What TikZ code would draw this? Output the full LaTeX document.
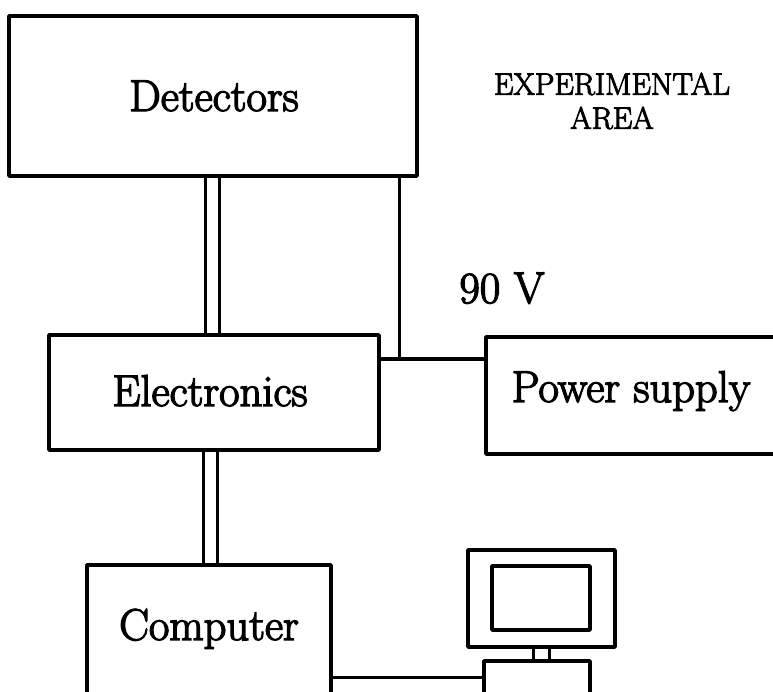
\documentclass[tikz,border=0pt]{standalone}
\usepackage{fontspec}
\newfontfamily\heavyfont[RawFeature={embolden=3}]{Latin Modern Roman}
\tikzset{
  x=1pt,y=-1pt,
  box/.style={draw=black,line width=3.8pt,fill=none,inner sep=0pt,outer sep=0pt,anchor=north west,line join=round},
  wire/.style={draw=black,line width=3pt},
  thickwire/.style={draw=black,line width=4pt},
  big/.style={font=\heavyfont\fontsize{44.5}{50}\selectfont,inner sep=0pt,text=black},
  small/.style={font=\heavyfont\fontsize{31}{34}\selectfont,inner sep=0pt,align=center,text=black}
}
\begin{document}
\begin{tikzpicture}
\useasboundingbox (0,0) rectangle (773,691);
\clip (0,0) rectangle (773,691);
\node[box,minimum width=408pt,minimum height=160pt] (det) at (9,16) {};
\node[box,minimum width=330pt,minimum height=115pt] (ele) at (49,335) {};
\node[box,minimum width=320pt,minimum height=117pt] (pow) at (486,337) {};
\node[box,minimum width=244pt,minimum height=160pt] (com) at (87,565) {};
\node[box,minimum width=147pt,minimum height=97pt] (mon) at (468,550) {};
\node[box,minimum width=98pt,minimum height=64pt] (scr) at (492,566) {};
\node[box,minimum width=106pt,minimum height=60pt] (bas) at (484,661) {};
\node[big,anchor=base] (t1) at (214,111) {Detectors};
\node[big,anchor=base] (t2) at (210,406) {Electronics};
\node[big,anchor=base] (t3) at (631,402) {Power supply};
\node[big,anchor=base] (t4) at (209,640) {Computer};
\node[big,anchor=base] (t5) at (502,303) {90 V};
\node[small] (t6) at (612,101) {EXPERIMENTAL\\AREA};
\coordinate (j) at (399,359);
\draw[wire] (det.south -| 205,0) -- (ele.north -| 205,0);
\draw[wire] (det.south -| 219,0) -- (ele.north -| 219,0);
\draw[wire] (ele.south -| 203,0) -- (com.north -| 203,0);
\draw[wire] (ele.south -| 217,0) -- (com.north -| 217,0);
\draw[wire] (det.south -| j) -- (j);
\draw[thickwire] (ele.east |- j) -- (pow.west |- j);
\draw[wire] (com.east |- 0,677) -- (bas.west |- 0,677);
\draw[wire] (mon.south -| 533,0) -- (bas.north -| 533,0);
\draw[wire] (mon.south -| 549,0) -- (bas.north -| 549,0);
\end{tikzpicture}
\end{document}
